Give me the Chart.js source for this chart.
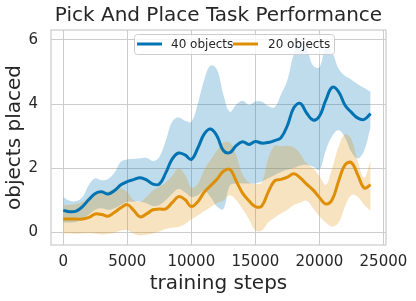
<!DOCTYPE html>
<html>
<head>
<meta charset="utf-8">
<script src="https://cdn.jsdelivr.net/npm/chart.js@4"></script>
<style>
  html, body { margin: 0; padding: 0; background: #fff; }
  #wrap { width: 416px; height: 301px; }
</style>
</head>
<body>
<div id="wrap"><canvas id="chart" width="416" height="301"></canvas></div>
<script>
// data
const steps = [0, 500, 1000, 1500, 2000, 2500, 3000, 3500, 4000, 4500, 5000, 5500, 6000, 6500, 7000, 7500,
  8000, 8500, 9000, 9500, 10000, 10500, 11000, 11500, 12000, 12500, 13000, 13500, 14000, 14500, 15000, 15500,
  16000, 16500, 17000, 17500, 18000, 18500, 19000, 19500, 20000, 20500, 21000, 21500, 22000, 22500, 23000, 23500, 24000];

const blueMean = [0.68, 0.64, 0.66, 0.80, 1.02, 1.21, 1.26, 1.19, 1.30, 1.48, 1.58, 1.64, 1.70, 1.63, 1.50, 1.50,
  1.85, 2.28, 2.47, 2.41, 2.27, 2.62, 3.06, 3.22, 3.00, 2.55, 2.48, 2.70, 2.82, 2.74, 2.83, 2.78,
  2.80, 2.86, 2.95, 3.33, 3.88, 4.02, 3.72, 3.50, 3.62, 4.12, 4.52, 4.38, 3.96, 3.74, 3.56, 3.52, 3.70];
const blueHigh = [1.10, 0.98, 0.97, 1.10, 1.48, 1.68, 1.62, 1.66, 1.86, 2.20, 2.27, 2.29, 2.31, 2.32, 2.22, 2.35,
  2.85, 3.45, 3.58, 3.48, 3.45, 4.00, 4.75, 5.20, 5.08, 4.30, 3.76, 3.98, 4.10, 3.97, 4.08, 4.08,
  3.94, 3.90, 4.30, 4.75, 5.55, 5.95, 5.74, 5.20, 5.15, 5.75, 5.60, 5.10, 4.88, 4.76, 4.62, 4.50, 4.38];
const blueLow = [0.30, 0.30, 0.32, 0.40, 0.55, 0.70, 0.75, 0.70, 0.75, 0.85, 0.95, 0.95, 0.95, 0.90, 0.82, 0.85,
  1.00, 1.20, 1.35, 1.25, 1.10, 1.15, 1.30, 1.10, 0.80, 0.72, 1.45, 1.52, 1.52, 1.52, 1.52, 1.58,
  1.68, 1.78, 1.88, 1.95, 2.00, 2.08, 2.10, 2.05, 1.95, 2.55, 3.00, 3.18, 2.95, 2.50, 2.30, 2.55, 3.29];

const orangeMean = [0.41, 0.41, 0.41, 0.41, 0.46, 0.57, 0.55, 0.50, 0.62, 0.76, 0.86, 0.68, 0.48, 0.57, 0.70, 0.72,
  0.73, 0.92, 1.11, 1.02, 0.80, 0.95, 1.25, 1.45, 1.65, 1.90, 1.96, 1.60, 1.22, 0.98, 0.80, 0.82,
  1.25, 1.60, 1.65, 1.72, 1.82, 1.70, 1.50, 1.32, 1.08, 0.88, 1.02, 1.60, 2.10, 2.17, 1.78, 1.38, 1.48];
const orangeHigh = [0.84, 0.86, 0.88, 0.95, 1.10, 1.20, 1.25, 1.28, 1.35, 1.36, 1.25, 1.00, 0.95, 1.10, 1.30, 1.42,
  1.55, 1.75, 1.99, 1.80, 1.40, 1.50, 1.95, 2.25, 2.55, 2.80, 2.80, 2.40, 1.80, 1.55, 1.50, 1.55,
  2.30, 2.70, 2.68, 2.70, 2.65, 2.45, 2.15, 2.00, 1.75, 1.48, 2.00, 2.67, 3.05, 2.90, 2.20, 1.70, 2.25];
const orangeLow = [-0.03, -0.04, -0.05, -0.04, -0.03, -0.05, -0.07, -0.06, -0.02, 0.05, 0.06, -0.05, -0.10, -0.08, -0.04, 0.02,
  0.10, 0.14, 0.17, 0.25, 0.40, 0.52, 0.65, 0.78, 0.90, 0.98, 1.15, 1.00, 0.72, 0.40, 0.06, 0.05,
  0.30, 0.45, 0.58, 0.70, 0.85, 0.92, 0.98, 0.75, 0.50, 0.30, 0.17, 0.30, 0.80, 1.16, 1.10, 0.85, 0.66];

const xTicks = [0, 5000, 10000, 15000, 20000, 25000];
const yTicks = [0, 2, 4, 6];
const seriesNames = ['40 objects', '20 objects'];

const BLUE = '#0173b2';
const ORANGE = '#de8f05';
const INK = '#262626';
const GRID = '#cccccc';

const pts = arr => steps.map((s, i) => ({ x: s, y: arr[i] }));

function band(arr, color, fill, order) {
  return {
    data: pts(arr), borderWidth: 0, pointRadius: 0, tension: 0.4,
    backgroundColor: color, fill: fill, order: order
  };
}

// seaborn-like framing: box round the axes, legend inside, title over the axes
const framePlugin = {
  id: 'frame',
  afterDraw(chart) {
    const { ctx, chartArea: a } = chart;
    ctx.save();
    ctx.strokeStyle = GRID;
    ctx.lineWidth = 1.25;
    ctx.strokeRect(a.left, a.top, a.right - a.left, a.bottom - a.top);

    ctx.fillStyle = INK;
    ctx.font = '20px "DejaVu Sans"';
    ctx.textAlign = 'center';
    ctx.textBaseline = 'middle';
    ctx.fillText('Pick And Place Task Performance', (a.left + a.right) / 2, 16);

    // legend
    const bx = 134, by = 34, bw = 200, bh = 20;
    ctx.fillStyle = 'rgba(255,255,255,0.8)';
    ctx.strokeStyle = GRID;
    ctx.lineWidth = 1;
    ctx.beginPath();
    ctx.roundRect(bx + 0.5, by + 0.5, bw, bh, 3);
    ctx.fill();
    ctx.stroke();
    const items = [[137, 171, BLUE, seriesNames[0]], [233, 268, ORANGE, seriesNames[1]]];
    ctx.font = '12px "DejaVu Sans"';
    ctx.textAlign = 'left';
    items.forEach(([hx, tx, col, txt]) => {
      ctx.strokeStyle = col;
      ctx.lineWidth = 3;
      ctx.beginPath();
      ctx.moveTo(hx, by + 10);
      ctx.lineTo(hx + 25, by + 10);
      ctx.stroke();
      ctx.fillStyle = INK;
      ctx.fillText(txt, tx, by + 10.5);
    });
    ctx.restore();
  }
};

new Chart(document.getElementById('chart'), {
  type: 'line',
  data: {
    datasets: [
      band(blueHigh, 'rgba(1,115,178,0.25)', '+1', 5),
      band(blueLow, 'rgba(1,115,178,0)', false, 5),
      band(orangeHigh, 'rgba(222,143,5,0.25)', '+1', 3),
      band(orangeLow, 'rgba(222,143,5,0)', false, 3),
      { label: seriesNames[0], data: pts(blueMean), borderColor: BLUE, borderWidth: 3, pointRadius: 0, tension: 0.4, fill: false, order: 1 },
      { label: seriesNames[1], data: pts(orangeMean), borderColor: ORANGE, borderWidth: 3, pointRadius: 0, tension: 0.4, fill: false, order: 0 }
    ]
  },
  options: {
    responsive: false,
    animation: false,
    layout: { padding: { top: 30, right: 30, left: 0, bottom: 0 } },
    plugins: { legend: { display: false }, tooltip: { enabled: false }, title: { display: false } },
    scales: {
      x: {
        type: 'linear', min: -960, max: 25200,
        afterBuildTicks: s => { s.ticks = xTicks.map(v => ({ value: v })); },
        afterFit: s => { s.height = 56; s.paddingLeft = 0; s.paddingRight = 0; },
        grid: { color: GRID, drawTicks: false },
        border: { display: false },
        ticks: { color: INK, font: { family: 'DejaVu Sans', size: 15 }, padding: 8, maxRotation: 0, autoSkip: false,
          callback: v => String(v) },
        title: { display: true, text: 'training steps', color: INK, font: { family: 'DejaVu Sans', size: 20 }, padding: { top: 0, bottom: 5 } }
      },
      y: {
        min: -0.4, max: 6.31,
        afterBuildTicks: s => { s.ticks = yTicks.map(v => ({ value: v })); },
        afterFit: s => { s.width = 51; s.paddingTop = 0; s.paddingBottom = 0; },
        grid: { color: GRID, drawTicks: false },
        border: { display: false },
        ticks: { color: INK, font: { family: 'DejaVu Sans', size: 15 }, padding: 13, callback: v => String(v) },
        title: { display: true, text: 'objects placed', color: INK, font: { family: 'DejaVu Sans', size: 20 }, padding: { top: 3, bottom: 0 } }
      }
    }
  },
  plugins: [framePlugin]
});
</script>
</body>
</html>
